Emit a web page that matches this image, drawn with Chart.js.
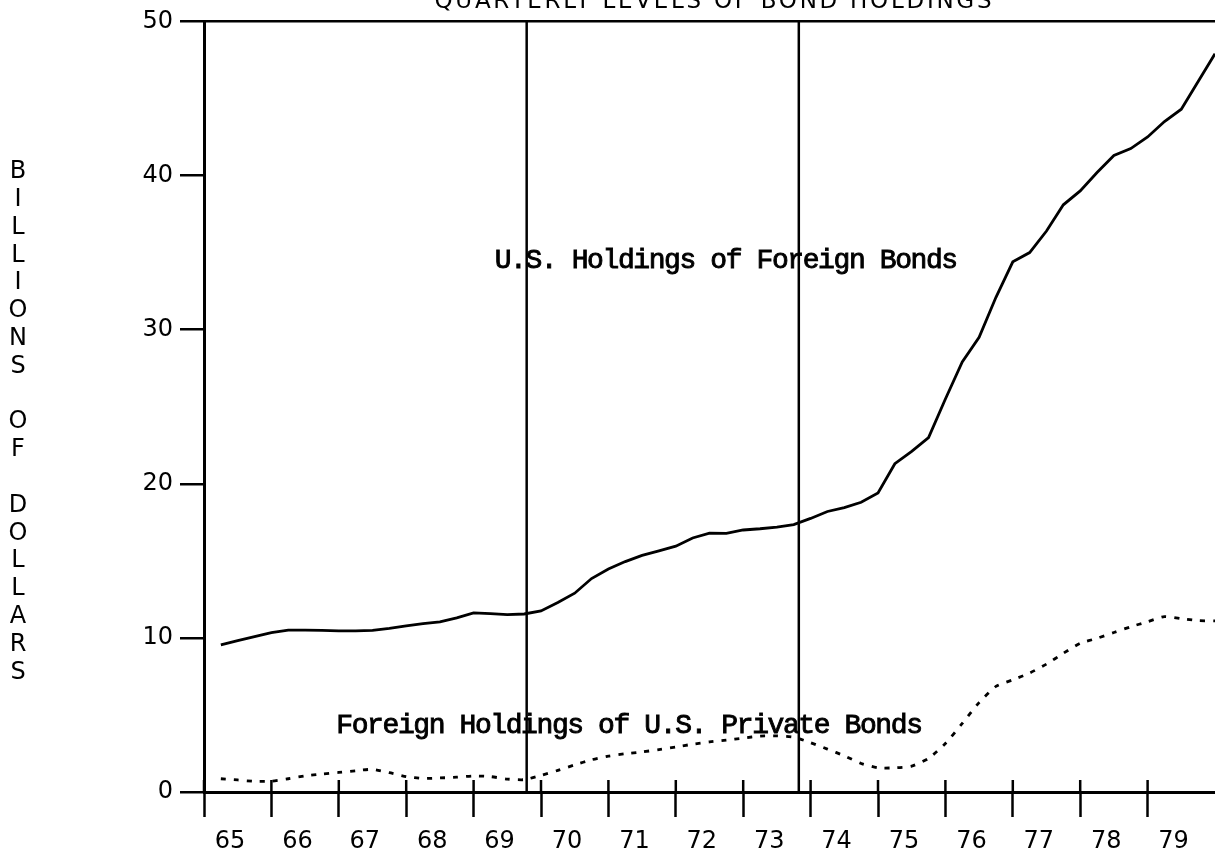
<!DOCTYPE html>
<html>
<head>
<meta charset="utf-8">
<script src="https://cdn.jsdelivr.net/npm/chart.js@4.4.1/dist/chart.umd.min.js"></script>
<style>
  html, body { margin: 0; padding: 0; background: #ffffff; }
  #wrap { width: 1215px; height: 855px; position: relative; }
</style>
</head>
<body>
<div id="wrap"><canvas id="c" width="1215" height="855"></canvas></div>
<script>
// ---- data ----
const yearLabels = ['65','66','67','68','69','70','71','72','73','74','75','76','77','78','79'];
const quarterLabels = [];
yearLabels.forEach(y => { for (let q = 1; q <= 4; q++) quarterLabels.push('19' + y + 'Q' + q); });

// U.S. Holdings of Foreign Bonds (billions of dollars), quarterly 1965Q1-1979Q4
const usHoldingsForeign = [
  9.55, 9.82, 10.08, 10.34,
  10.50, 10.50, 10.49, 10.46,
  10.45, 10.49, 10.62, 10.78,
  10.92, 11.04, 11.30, 11.62,
  11.58, 11.51, 11.55, 11.75,
  12.30, 12.90, 13.85, 14.47,
  14.95, 15.35, 15.65, 15.95,
  16.48, 16.80, 16.78, 17.00,
  17.08, 17.19, 17.35, 17.75,
  18.20, 18.45, 18.80, 19.40,
  21.30, 22.10, 23.00, 25.50,
  27.90, 29.50, 32.10, 34.40,
  35.00, 36.40, 38.10, 39.00,
  40.20, 41.30, 41.75, 42.50,
  43.50, 44.30, 46.10, 47.90
];
// Foreign Holdings of U.S. Private Bonds (billions of dollars), quarterly 1965Q1-1979Q4
const foreignHoldingsUS = [
  0.86, 0.78, 0.69, 0.70,
  0.86, 1.05, 1.17, 1.27,
  1.38, 1.47, 1.25, 1.00,
  0.88, 0.91, 0.96, 1.04,
  1.00, 0.84, 0.80, 1.08,
  1.40, 1.76, 2.09, 2.33,
  2.48, 2.60, 2.75, 2.92,
  3.10, 3.25, 3.37, 3.50,
  3.63, 3.64, 3.56, 3.20,
  2.78, 2.35, 1.85, 1.57,
  1.57, 1.68, 2.18, 3.15,
  4.45, 5.80, 6.85, 7.28,
  7.72, 8.30, 9.00, 9.65,
  9.97, 10.35, 10.72, 11.05,
  11.38, 11.25, 11.12, 11.10
];
const yTickValues = [0, 10, 20, 30, 40, 50];
// reference dates of the two vertical lines (quarters elapsed since start of 1965)
const markerQuarters = [19.15, 35.3];

const titleText = 'QUARTERLY LEVELS OF BOND HOLDINGS';
const yAxisText = 'BILLIONS OF DOLLARS';
const seriesNotes = [
  { text: 'U.S. Holdings of Foreign Bonds', x: 17.25, y: 34.0 },
  { text: 'Foreign Holdings of U.S. Private Bonds', x: 7.85, y: 3.8 }
];

// ---- chart ----
const INK = '#000000';
const SANS = '"DejaVu Sans", "Liberation Sans", sans-serif';
const MONO = '"Liberation Mono", "DejaVu Sans Mono", monospace';

const toPoints = arr => quarterLabels.map((q, i) => ({ x: i + 1, y: arr[i] }));

const decorPlugin = {
  id: 'decor',
  beforeDatasetsDraw(chart) {
    const { ctx, scales: { x, y } } = chart;
    ctx.save();
    ctx.strokeStyle = INK;
    ctx.lineWidth = 2.5;
    // vertical reference lines
    markerQuarters.forEach(m => {
      const px = x.getPixelForValue(m);
      ctx.beginPath();
      ctx.moveTo(px, y.getPixelForValue(50));
      ctx.lineTo(px, y.getPixelForValue(0));
      ctx.stroke();
    });
    // upper part of x tick marks
    x.ticks.forEach(t => {
      const px = x.getPixelForValue(t.value);
      const by = y.getPixelForValue(0);
      ctx.beginPath();
      ctx.moveTo(px, by - 12);
      ctx.lineTo(px, by);
      ctx.stroke();
    });
    ctx.restore();
  },
  afterDraw(chart) {
    const { ctx, scales: { x, y } } = chart;
    ctx.save();
    ctx.fillStyle = INK;
    ctx.strokeStyle = INK;
    // title (cut at top of page)
    ctx.font = '23px ' + SANS;
    ctx.textBaseline = 'alphabetic';
    ctx.textAlign = 'left';
    const w0 = ctx.measureText(titleText).width;
    const targetW = 557;
    const ls = (targetW - w0) / (titleText.length - 1);
    ctx.letterSpacing = ls + 'px';
    ctx.fillText(titleText, 713 - targetW / 2, 8);
    ctx.letterSpacing = '0px';
    // vertical stacked y-axis title
    ctx.font = '24px ' + SANS;
    ctx.textAlign = 'center';
    ctx.textBaseline = 'middle';
    const chars = yAxisText.split('');
    chars.forEach((ch, i) => {
      if (ch !== ' ') ctx.fillText(ch, 18, 172 + i * 27.8);
    });
    // series notes
    ctx.font = '28px ' + MONO;
    ctx.letterSpacing = '-1.4px';
    ctx.textAlign = 'left';
    ctx.textBaseline = 'alphabetic';
    ctx.lineWidth = 0.9;
    seriesNotes.forEach(n => {
      const px = x.getPixelForValue(n.x), py = y.getPixelForValue(n.y);
      ctx.fillText(n.text, px, py);
      ctx.strokeText(n.text, px, py);
    });
    ctx.letterSpacing = '0px';
    ctx.restore();
  }
};

new Chart(document.getElementById('c'), {
  type: 'line',
  data: {
    datasets: [
      {
        label: 'U.S. Holdings of Foreign Bonds',
        data: toPoints(usHoldingsForeign),
        borderColor: INK,
        borderWidth: 2.8,
        pointRadius: 0,
        tension: 0,
        fill: false
      },
      {
        label: 'Foreign Holdings of U.S. Private Bonds',
        data: toPoints(foreignHoldingsUS),
        borderColor: INK,
        borderWidth: 2.8,
        borderDash: [5, 8],
        pointRadius: 0,
        tension: 0.2,
        fill: false
      }
    ]
  },
  options: {
    responsive: false,
    animation: false,
    devicePixelRatio: 1,
    layout: { padding: { top: 16, left: 0, right: 0, bottom: 0 } },
    plugins: {
      legend: { display: false },
      tooltip: { enabled: false },
      title: { display: false }
    },
    scales: {
      x: {
        type: 'linear',
        min: 0,
        max: 60,
        afterFit(s) { s.height = 63; },
        afterBuildTicks(s) { s.ticks = yearLabels.map((yl, i) => ({ value: i * 4 })); },
        ticks: {
          callback: (v, i) => yearLabels[i],
          color: INK,
          font: { family: SANS, size: 24 },
          padding: 10,
          labelOffset: 26,
          maxRotation: 0,
          autoSkip: false
        },
        grid: {
          drawOnChartArea: false,
          drawTicks: true,
          tickLength: 25,
          tickWidth: 2.5,
          tickColor: INK,
          color: INK
        },
        border: { display: true, color: INK, width: 3 }
      },
      y: {
        type: 'linear',
        min: 0,
        max: 50,
        afterFit(s) { s.width = 204; },
        afterBuildTicks(s) { s.ticks = yTickValues.map(v => ({ value: v })); },
        ticks: {
          color: INK,
          font: { family: SANS, size: 24 },
          padding: 7
        },
        grid: {
          drawOnChartArea: true,
          color: c => (c.tick && c.tick.value === 50) ? INK : 'rgba(0,0,0,0)',
          lineWidth: 2.5,
          tickLength: 24,
          tickWidth: 2.5,
          tickColor: INK
        },
        border: { display: true, color: INK, width: 3 }
      }
    }
  },
  plugins: [decorPlugin]
});
</script>
</body>
</html>
